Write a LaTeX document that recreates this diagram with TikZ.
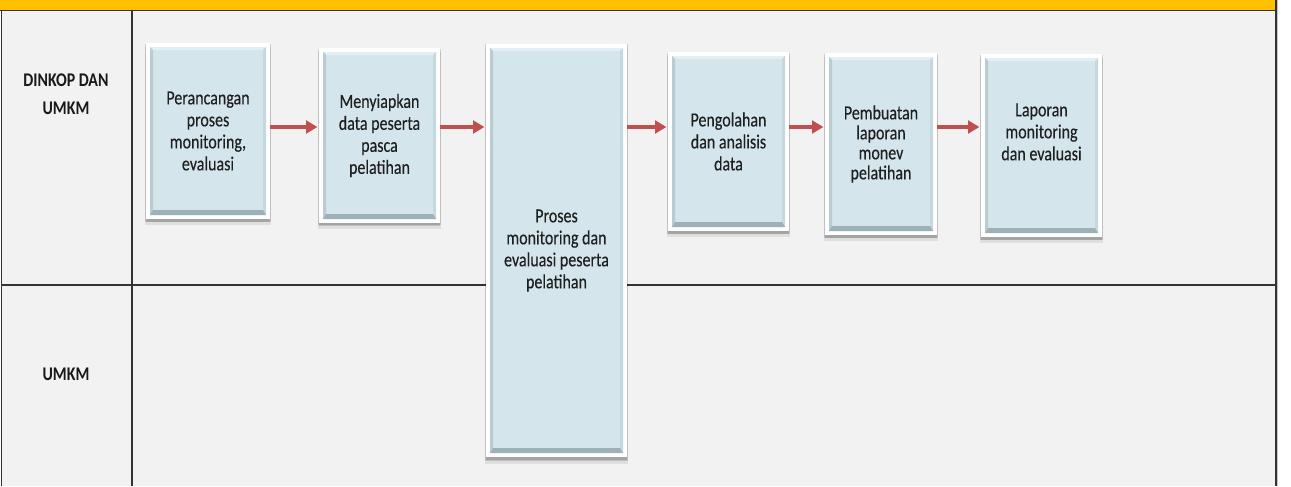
\documentclass[tikz,border=0pt]{standalone}
\usepackage{fontspec}
\setmainfont{Carlito}
\newfontfamily\boxfont[FakeStretch=0.8,FakeBold=0.25]{Carlito}
\newfontfamily\lanefont[FakeStretch=0.82]{Carlito Bold}
\usetikzlibrary{arrows.meta,calc,shadows}
\definecolor{laneyellow}{HTML}{FFC000}
\definecolor{lanebg}{HTML}{F2F2F2}
\definecolor{laneline}{HTML}{333333}
\definecolor{boxblue}{HTML}{D4E6EC}
\definecolor{bevdark}{HTML}{9DB1B8}
\definecolor{bevmid}{HTML}{B9CCD3}
\definecolor{bevlight}{HTML}{E3EFF3}
\definecolor{arrowred}{HTML}{C0504D}
\begin{document}
\begin{tikzpicture}[x=0.75pt,y=-0.75pt,
 lane/.style={draw=laneline,line width=1.3pt},
 lanelabel/.style={font=\lanefont\fontsize{14.5}{21}\selectfont,align=center,text=black!90},
 flowbox/.style={fill=white,inner sep=0pt,align=center,text=black!88,
   font=\boxfont\fontsize{15}{16.5}\selectfont,
   general shadow={shadow xshift=0pt,shadow yshift=-3.8pt,shadow scale=1.01,fill=black,opacity=0.08},
   general shadow={shadow xshift=0pt,shadow yshift=-2.6pt,fill=black,opacity=0.14},
   general shadow={shadow xshift=0pt,shadow yshift=-1.2pt,shadow scale=1.01,fill=black,opacity=0.14},
   path picture={
     \coordinate (pNW) at ($(path picture bounding box.north west)+(4,4)$);
     \coordinate (pSE) at ($(path picture bounding box.south east)+(-4,-4)$);
     \fill[boxblue] (pNW) rectangle (pSE);
     \fill[bevlight] (pNW) -- (pSE|-pNW) -- ($(pSE|-pNW)+(-3,3)$) -- ($(pNW)+(3,3)$) -- cycle;
     \fill[bevmid!55!boxblue] (pSE|-pNW) -- (pSE) -- ($(pSE)+(-3,-5)$) -- ($(pSE|-pNW)+(-3,3)$) -- cycle;
     \fill[bevmid] (pNW) -- ($(pNW)+(3,3)$) -- ($(pNW|-pSE)+(3,-5)$) -- (pNW|-pSE) -- cycle;
     \fill[bevdark] (pNW|-pSE) -- (pSE) -- ($(pSE)+(-3,-5)$) -- ($(pNW|-pSE)+(3,-5)$) -- cycle;
   }},
 flowarrow/.style={draw=arrowred,line width=3pt,shorten >=1pt,
   -{Triangle[length=8.5pt,width=9.5pt]}}
]
\useasboundingbox (0,0) rectangle (1291,486);
% swimlane frame
\fill[white] (0,0) rectangle (1291,486);
\fill[lanebg] (1,10) rectangle (1276,486);
\fill[laneyellow] (0,0) rectangle (1276,10);
\draw[lane] (0,10.5) -- (1276,10.5);
\draw[lane] (1.5,10) -- (1.5,486);
\draw[lane] (132,10) -- (132,486);
\draw[lane] (1.5,285) -- (1276,285);
\draw[lane] (1276,0) -- (1276,486);
\draw[gray!45,line width=0.8pt] (1277.6,0) -- (1277.6,486);
% lane labels
\node[lanelabel] (l1) at (66,94) {DINKOP DAN\\UMKM};
\node[lanelabel] (l2) at (66,374) {UMKM};
% process boxes
\node[flowbox,minimum width=93pt,minimum height=132pt] (b1) at (208,131)
  {Perancangan\\proses\\monitoring,\\evaluasi};
\node[flowbox,minimum width=90.75pt,minimum height=131.25pt] (b2) at (379.5,135.5)
  {Menyiapkan\\data peserta\\pasca\\pelatihan};
\node[flowbox,minimum width=105.75pt,minimum height=309.75pt] (b3) at (556.5,250.5)
  {Proses\\monitoring dan\\evaluasi peserta\\pelatihan};
\node[flowbox,minimum width=90.75pt,minimum height=134.25pt] (b4) at (728.5,141.5)
  {Pengolahan\\dan analisis\\data};
\node[flowbox,minimum width=84pt,minimum height=136.5pt,
  font=\boxfont\fontsize{15}{15}\selectfont] (b5) at (881,144)
  {Pembuatan\\laporan\\monev\\pelatihan};
\node[flowbox,minimum width=90.75pt,minimum height=137.25pt] (b6) at (1041.5,145.5)
  {Laporan\\monitoring\\dan evaluasi\\[-1pt]\strut};
% arrows
\coordinate (ay) at (0,127);
\draw[flowarrow] (b1.east|-ay) -- (b2.west|-ay);
\draw[flowarrow] (b2.east|-ay) -- (b3.west|-ay);
\draw[flowarrow] (b3.east|-ay) -- (b4.west|-ay);
\draw[flowarrow] (b4.east|-ay) -- (b5.west|-ay);
\draw[flowarrow] (b5.east|-ay) -- (b6.west|-ay);
\end{tikzpicture}
\end{document}
